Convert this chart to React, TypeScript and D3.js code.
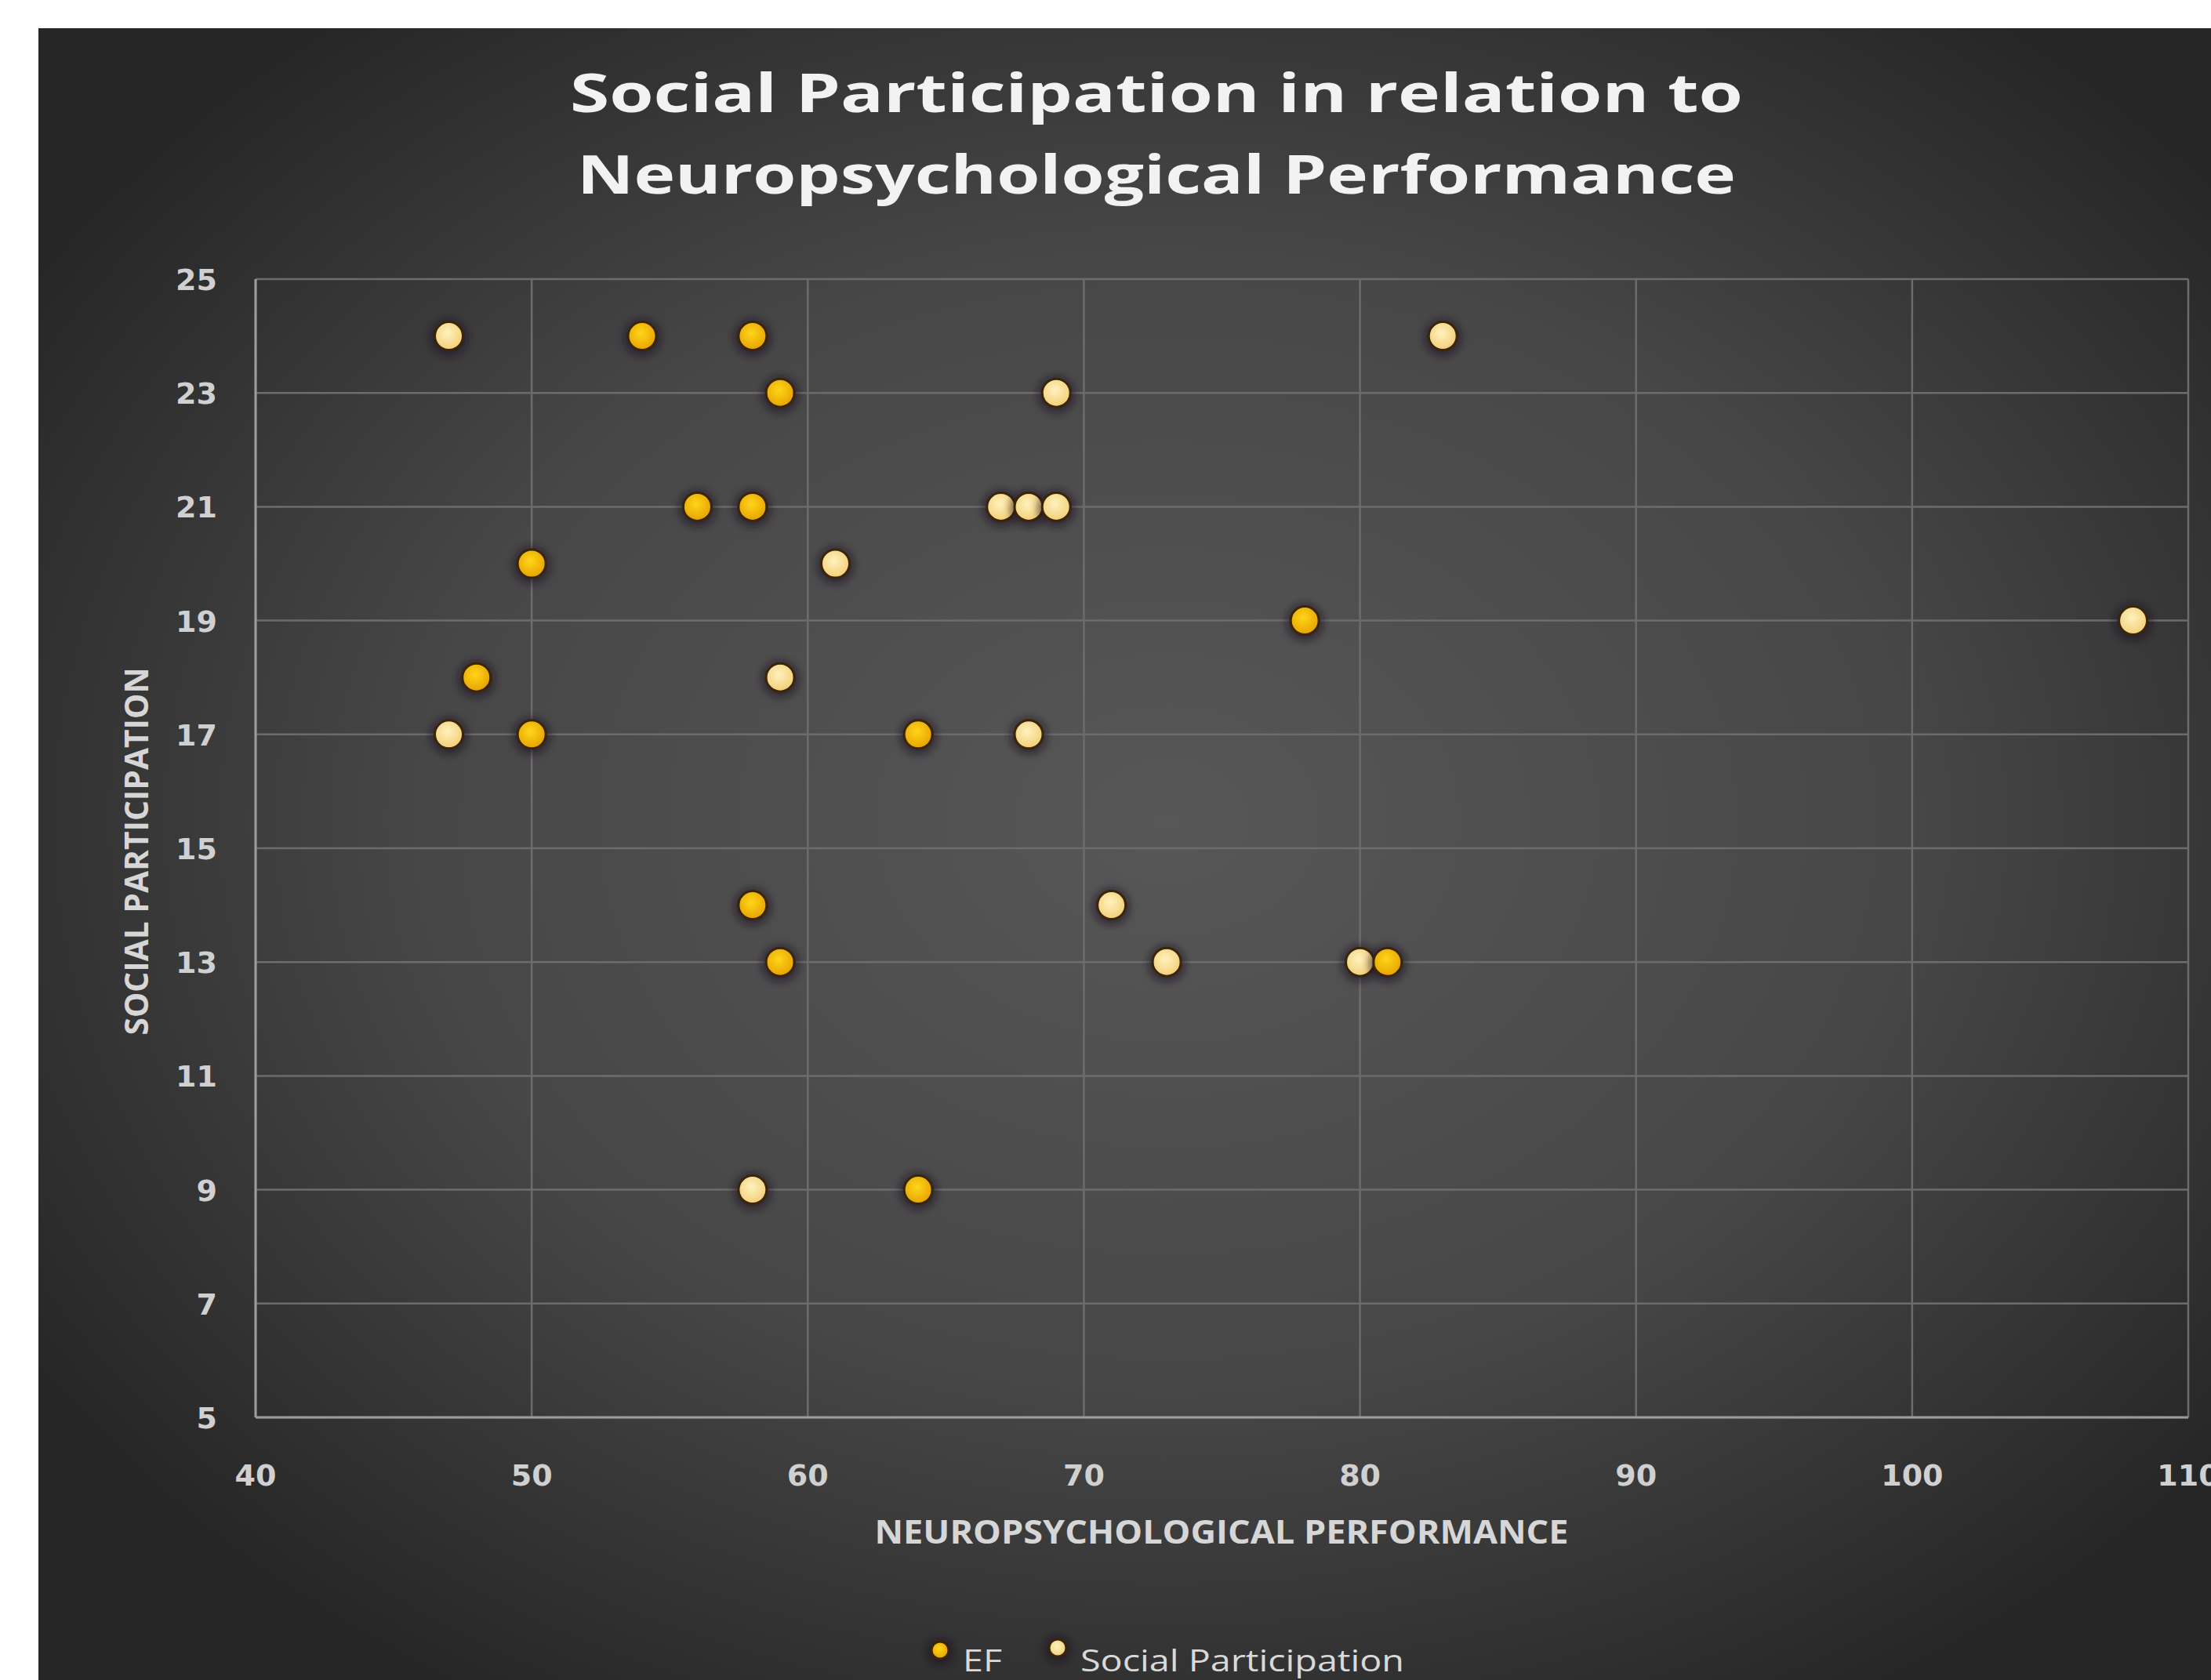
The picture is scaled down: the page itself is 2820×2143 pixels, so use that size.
import React from "react";
import * as d3 from "d3";

const efX = [54, 58, 59, 56, 58, 50, 78, 48, 50, 64, 58, 59, 81, 64];
const efY = [24, 24, 23, 21, 21, 20, 19, 18, 17, 17, 14, 13, 13, 9];
const spX = [47, 83, 69, 67, 68, 69, 61, 108, 59, 47, 68, 71, 73, 80, 58];
const spY = [24, 24, 23, 21, 21, 21, 20, 19, 18, 17, 17, 14, 13, 13, 9];
const xTicks = [40, 50, 60, 70, 80, 90, 100, 110];
const yTicks = [5, 7, 9, 11, 13, 15, 17, 19, 21, 23, 25];
const titleLines = ["Social Participation in relation to", "Neuropsychological Performance"];
const xTitle = "NEUROPSYCHOLOGICAL PERFORMANCE";
const yTitle = "SOCIAL PARTICIPATION";
const seriesNames = ["EF", "Social Participation"];

const W = 2820;
const H = 2143;

export default function App() {
  const x = d3.scaleLinear().domain([40, 110]).range([326, 2791]);
  const y = d3.scaleLinear().domain([5, 25]).range([1808, 356]);
  const ef = efX.map((v, i) => [v, efY[i]]);
  const sp = spX.map((v, i) => [v, spY[i]]);
  const font = "'Open Sans', 'DejaVu Sans', sans-serif";
  const tickFont = "'DejaVu Sans', sans-serif";

  const marker = (cx: number, cy: number, fill: string, r: number, key: string) => (
    <g key={key}>
      <circle cx={cx} cy={cy + 2} r={r + 6} fill="#1a1020" opacity={0.55} filter="url(#blur)" />
      <circle cx={cx} cy={cy} r={r} fill={fill} stroke="#3a2508" strokeWidth={3} />
    </g>
  );

  return (
    <svg width={W} height={H} style={{ position: "absolute", left: 0, top: 0, display: "block" }}>
      <defs>
        <radialGradient id="bg" cx="52%" cy="48%" r="62%">
          <stop offset="0%" stopColor="#575757" />
          <stop offset="55%" stopColor="#474747" />
          <stop offset="100%" stopColor="#262626" />
        </radialGradient>
        <radialGradient id="efFill" cx="45%" cy="40%" r="60%">
          <stop offset="0%" stopColor="#ffd51a" />
          <stop offset="100%" stopColor="#e6a300" />
        </radialGradient>
        <radialGradient id="spFill" cx="45%" cy="40%" r="60%">
          <stop offset="0%" stopColor="#fff1bd" />
          <stop offset="100%" stopColor="#f2cf78" />
        </radialGradient>
        <filter id="blur" x="-50%" y="-50%" width="200%" height="200%">
          <feGaussianBlur stdDeviation="5" />
        </filter>
      </defs>
      <rect x={0} y={0} width={W} height={H} fill="#ffffff" />
      <rect x={49} y={36} width={W - 49} height={H - 36} fill="url(#bg)" />

      {titleLines.map((t, i) => (
        <text
          key={t}
          x={1475}
          y={143 + i * 104}
          textAnchor="middle"
          fontFamily={font}
          fontWeight={700}
          fontSize={68}
          fill="#f2f2f2"
          textLength={i === 0 ? 1496 : 1478}
          lengthAdjust="spacingAndGlyphs"
        >
          {t}
        </text>
      ))}

      {/* gridlines */}
      {yTicks.map((t) => (
        <line key={"gy" + t} x1={x(40)} x2={x(110)} y1={y(t)} y2={y(t)} stroke="#6c6c6c" strokeWidth={2.5} />
      ))}
      {xTicks.map((t) => (
        <line key={"gx" + t} x1={x(t)} x2={x(t)} y1={y(5)} y2={y(25)} stroke="#6c6c6c" strokeWidth={2.5} />
      ))}
      {/* axes */}
      <line x1={x(40)} x2={x(40)} y1={y(5)} y2={y(25)} stroke="#9c9c9c" strokeWidth={3} />
      <line x1={x(40)} x2={x(110)} y1={y(5)} y2={y(5)} stroke="#9c9c9c" strokeWidth={3} />

      {yTicks.map((t) => (
        <text key={"ty" + t} x={277} y={y(t) + 14} textAnchor="end" fontFamily={tickFont} fontWeight={700} fontSize={38} fill="#d0d0d0">
          {t}
        </text>
      ))}
      {xTicks.map((t) => (
        <text key={"tx" + t} x={x(t)} y={1895} textAnchor="middle" fontFamily={tickFont} fontWeight={700} fontSize={38} fill="#d0d0d0">
          {t}
        </text>
      ))}

      <text x={1558} y={1969} textAnchor="middle" fontFamily={font} fontWeight={700} fontSize={42} fill="#d6d6d6" textLength={885} lengthAdjust="spacingAndGlyphs">
        {xTitle}
      </text>
      <text
        transform="translate(189,1086) rotate(-90)"
        textAnchor="middle"
        fontFamily={font}
        fontWeight={700}
        fontSize={42}
        fill="#d6d6d6"
        textLength={469}
        lengthAdjust="spacingAndGlyphs"
      >
        {yTitle}
      </text>

      {sp.map((d, i) => marker(x(d[0]), y(d[1]), "url(#spFill)", 18, "sp" + i))}
      {ef.map((d, i) => marker(x(d[0]), y(d[1]), "url(#efFill)", 18, "ef" + i))}

      {/* legend */}
      {marker(1199, 2105, "url(#efFill)", 11, "lef")}
      <text x={1228} y={2132} fontFamily={font} fontSize={38} fill="#d9d9d9" textLength={50} lengthAdjust="spacingAndGlyphs">
        {seriesNames[0]}
      </text>
      {marker(1349, 2102, "url(#spFill)", 11, "lsp")}
      <text x={1378} y={2132} fontFamily={font} fontSize={38} fill="#d9d9d9" textLength={413} lengthAdjust="spacingAndGlyphs">
        {seriesNames[1]}
      </text>
    </svg>
  );
}
